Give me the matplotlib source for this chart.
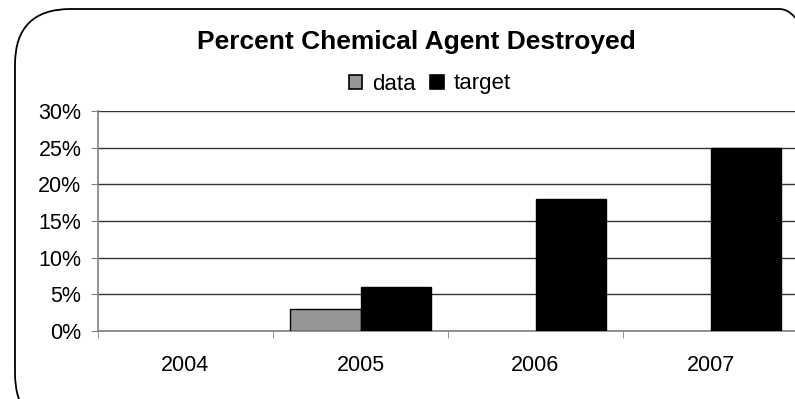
import matplotlib
matplotlib.use("Agg")
from matplotlib import pyplot as plt
from matplotlib.patches import FancyBboxPatch
import numpy as np

# chart values
years = ["2004", "2005", "2006", "2007"]
data_vals = [0, 3, 0, 0]
target_vals = [0, 6, 18, 25]

plt.rcParams["font.family"] = ["Liberation Sans", "DejaVu Sans"]

W, H = 795, 399
fig = plt.figure(figsize=(W / 100, H / 100), dpi=100)
fig.patch.set_facecolor("white")

# rounded outer frame, running off the right and bottom edges
frame = FancyBboxPatch((15 / W, -30 / H), 820 / W, (H - 9 + 30) / H,
                       boxstyle="round,pad=0,rounding_size=0.07",
                       transform=fig.transFigure, fc="none", ec="black",
                       lw=1.3, mutation_aspect=W / H, zorder=5)
fig.patches.append(frame)

# plot area in pixels: x 98..798, y 111..331
ax = fig.add_axes([98 / W, (H - 331) / H, 700 / W, 220 / H])
ax.set_facecolor("none")

x = np.arange(len(years))
bw = 0.405
# no outline on empty bars
ax.bar(x - bw / 2, data_vals, bw, color="#969696", edgecolor="black",
       lw=[1 if v else 0 for v in data_vals], label="data", zorder=3)
ax.bar(x + bw / 2, target_vals, bw, color="black", edgecolor="black",
       lw=[1 if v else 0 for v in target_vals], label="target", zorder=3)

ax.set_xlim(-0.5, len(years) - 0.5)
ax.set_ylim(0, 30)
ax.set_yticks(range(0, 31, 5))
ax.set_yticklabels([f"{v}%" for v in range(0, 31, 5)], fontsize=15.5)
ax.set_xticks(x)
ax.set_xticklabels(years, fontsize=15.5)
ax.set_xticks(np.arange(-0.5, len(years)), minor=True)
ax.tick_params(axis="x", which="major", length=0, pad=17)
ax.tick_params(axis="x", which="minor", length=5, color="#808080", direction="out")
ax.tick_params(axis="y", length=5, color="#808080", direction="out", pad=7)

ax.grid(axis="y", color="#333333", lw=1, zorder=0)
for s in ["top", "right"]:
    ax.spines[s].set_visible(False)
ax.spines["left"].set_color("#808080")
ax.spines["bottom"].set_color("#808080")
ax.spines["left"].set_linewidth(1.2)
ax.spines["bottom"].set_linewidth(1.2)

fig.text(416 / W, 1 - 49 / H, "Percent Chemical Agent Destroyed", ha="center", va="baseline",
         fontsize=19, fontweight="bold")
leg = fig.legend(loc="center", bbox_to_anchor=(430 / W, 1 - 84 / H), ncol=2, frameon=False,
                 fontsize=16, handlelength=0.6, handleheight=0.6, handletextpad=0.45,
                 columnspacing=0.65, borderpad=0)
for h in leg.legend_handles:
    h.set_linewidth(1.2)
    h.set_edgecolor("black")

fig.savefig("out.png", dpi=100)
